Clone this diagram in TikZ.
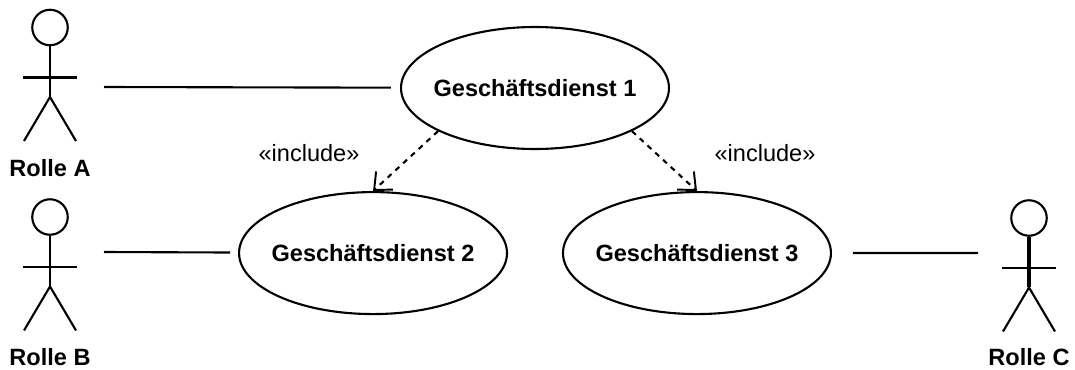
\documentclass[tikz,border=0pt]{standalone}
\usepackage{fontspec}
\setmainfont{Liberation Sans}
\usetikzlibrary{positioning}
\usetikzlibrary{shapes.geometric}
\usetikzlibrary{arrows.meta}

\begin{document}
\begin{tikzpicture}[
  x=0.02cm, y=-0.02cm,
  line width=1.2pt,
  dienst/.style={draw,ellipse,minimum width=5.36cm,minimum height=2.44cm,inner xsep=-0.2cm,inner ysep=0pt,align=center,font=\fontsize{13.4}{16}\selectfont\bfseries},
  kopf/.style={draw,circle,minimum size=0.71cm,inner sep=0pt},
  rolle/.style={font=\fontsize{13.4}{16}\selectfont\bfseries},
  stereo/.style={font=\fontsize{13.4}{16}\selectfont},
  include/.style={dashed,-{Straight Barb[length=8pt,width=14pt,line width=1.1pt]}}
]
\useasboundingbox (0,0) rectangle (1075,369);

\node[dienst] (g1) at (535,88) {Gesch\"aftsdienst 1};
\node[dienst, below=0.82cm of g1, xshift=-3.24cm] (g2) {Gesch\"aftsdienst 2};
\node[dienst, below=0.82cm of g1, xshift=3.24cm] (g3) {Gesch\"aftsdienst 3};

\node[stereo] (i2) at (309,153) {«include»};
\node[stereo] (i3) at (765,153) {«include»};

\node[kopf] (k1) at (50,27.5) {};
\coordinate[below=1.0cm of k1.center] (s1);
\coordinate[below=1.39cm of k1.center] (h1);
\coordinate[below left=0.88cm and 0.52cm of h1] (f11);
\coordinate[below right=0.88cm and 0.52cm of h1] (f12);
\coordinate (a1) at (104,87);
\node[rolle, below=2.5cm of k1.center] (r1) {Rolle A};

\node[kopf] (k2) at (50,217) {};
\coordinate[below=1.0cm of k2.center] (s2);
\coordinate[below=1.39cm of k2.center] (h2);
\coordinate[below left=0.88cm and 0.52cm of h2] (f21);
\coordinate[below right=0.88cm and 0.52cm of h2] (f22);
\coordinate (a2) at (104,252);
\node[rolle, below=2.5cm of k2.center] (r2) {Rolle B};

\node[kopf] (k3) at (1029,218) {};
\coordinate[below=1.0cm of k3.center] (s3);
\coordinate[below=1.39cm of k3.center] (h3);
\coordinate[below left=0.88cm and 0.52cm of h3] (f31);
\coordinate[below right=0.88cm and 0.52cm of h3] (f32);
\coordinate (a3) at (978,253);
\node[rolle, below=2.48cm of k3.center] (r3) {Rolle C};

\draw (k1) -- (h1);
\draw ([xshift=-0.54cm]s1) -- ([xshift=0.54cm]s1);
\draw (f11) -- (h1) -- (f12);

\draw (k2) -- (h2);
\draw ([xshift=-0.54cm]s2) -- ([xshift=0.54cm]s2);
\draw (f21) -- (h2) -- (f22);

\draw[line width=1.8pt] (k3) -- (h3);
\draw ([xshift=-0.54cm]s3) -- ([xshift=0.54cm]s3);
\draw (f31) -- (h3) -- (f32);

\draw[shorten >=0.18cm] (a1) -- (g1);
\draw[shorten >=0.16cm] (a2) -- (g2);
\draw[shorten >=0.42cm] (a3) -- (g3);

\draw[include] (g1.204) -- (g2.north);
\draw[include] (g1.336) -- (g3.north);

\end{tikzpicture}
\end{document}
